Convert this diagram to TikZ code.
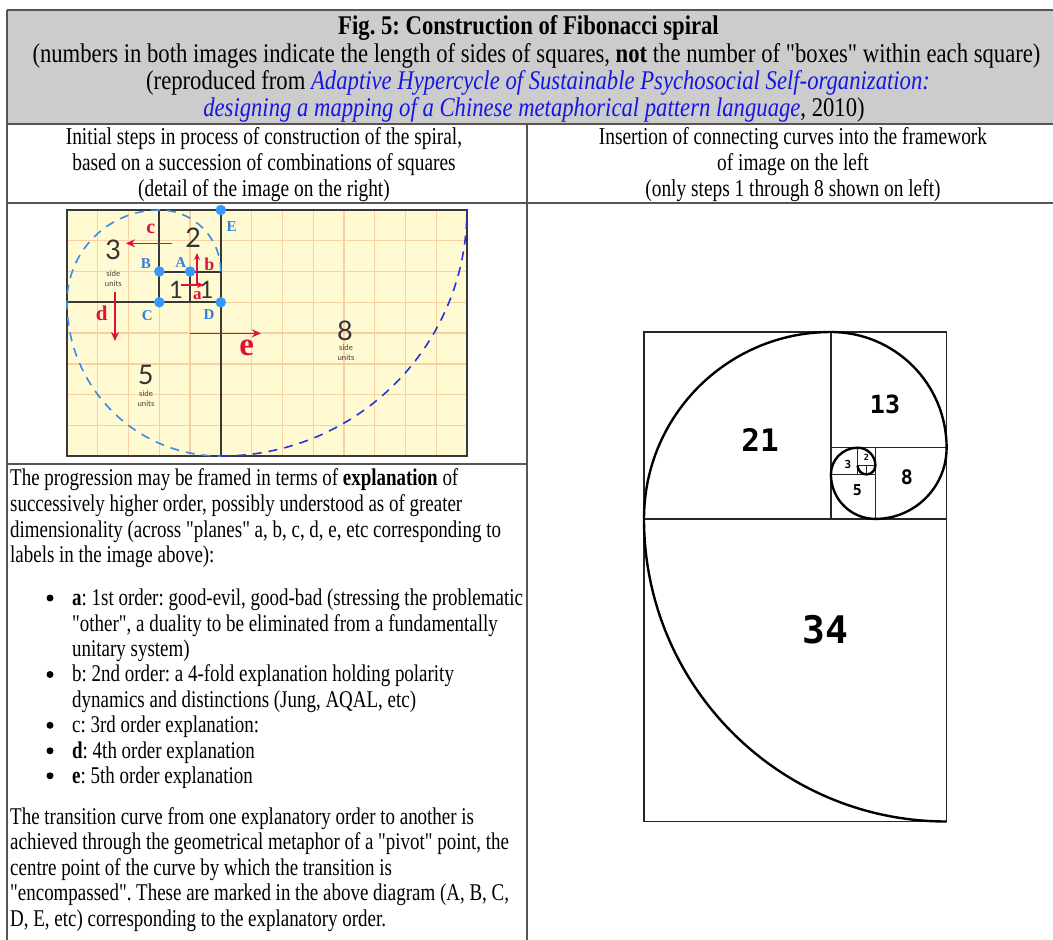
\documentclass[tikz,border=0pt]{standalone}
\usepackage{fontspec}
\setmainfont{Liberation Serif}[FakeStretch=0.79, Ligatures=TeXOff]
\newfontfamily\hdrfam{Liberation Serif}[FakeStretch=0.84, Ligatures=TeXOff]
\newfontfamily\rowfam{Liberation Serif}[FakeStretch=0.8, Ligatures=TeXOff]
\newfontfamily\monof{DejaVu Sans Mono}
\newfontfamily\lsans{Lato}
\newfontfamily\lserif{Liberation Serif}
\usetikzlibrary{arrows.meta}
\frenchspacing
\definecolor{hdrgray}{HTML}{CCCCCC}
\definecolor{rulegray}{HTML}{555555}
\definecolor{linkblue}{HTML}{1515E6}
\definecolor{imgbg}{HTML}{FFFAD2}
\definecolor{gridc}{HTML}{F8D0A2}
\definecolor{sqc}{HTML}{383838}
\definecolor{dotc}{HTML}{3399FF}
\definecolor{lblblue}{HTML}{2E7FE0}
\definecolor{redc}{HTML}{E0103C}
\definecolor{dashl}{HTML}{3A8AE8}
\definecolor{dashr}{HTML}{2236E0}
\newcommand\hdrf{\hdrfam\fontsize{27}{27}\selectfont}
\newcommand\rowf{\rowfam\fontsize{24.2}{26}\selectfont}
\newcommand\bodyf{\fontsize{24}{26}\selectfont}
\tikzset{
  rule/.style={draw=rulegray, line width=1.5pt},
  hline/.style={anchor=base, inner sep=0pt, font=\hdrf},
  rline/.style={anchor=base, inner sep=0pt, font=\rowf},
  tline/.style={anchor=base west, inner sep=0pt, font=\bodyf},
  sqline/.style={draw=sqc, line width=2pt},
  gridline/.style={draw=gridc, line width=1.3pt},
  pivot/.style={circle, fill=dotc, inner sep=0pt, minimum size=10.5pt},
  pivlbl/.style={inner sep=0pt, text=lblblue, font=\lserif\bfseries\fontsize{15}{15}\selectfont},
  redarr/.style={draw=redc, line width=1.6pt, -{Stealth[length=9pt,width=8pt]}},
  redlbl/.style={inner sep=0pt, text=redc, font=\lserif\bfseries\fontsize{20}{20}\selectfont},
  bignum/.style={inner sep=0pt, text=black!80, font=\lsans\fontsize{27}{27}\selectfont},
  tiny/.style={inner sep=0pt, text=black!75, font=\lsans\fontsize{7.8}{7.8}\selectfont},
  fibline/.style={draw=black!85, line width=1.2pt},
  spiral/.style={draw=black, line width=2.4pt},
  fibnum/.style={inner sep=0pt, font=\monof\bfseries},
  bullet/.style={circle, fill=black, inner sep=0pt, minimum size=7pt}
}
\begin{document}
\begin{tikzpicture}[x=1pt,y=1pt]
\useasboundingbox (0,0) rectangle (1053,-940);
\fill[white] (0,0) rectangle (1053,-940);
% ---------- table ----------
\fill[hdrgray] (7,-10) rectangle (1053,-124);
\draw[rule] (7,-10) -- (1053,-10);
\draw[rule] (7,-10) -- (7,-940);
\draw[rule] (7,-124) -- (1053,-124);
\draw[rule] (7,-203) -- (1053,-203);
\draw[rule] (527,-124) -- (527,-940);
\draw[rule] (7,-464) -- (527,-464);
% header
\node[hline] (h1) at (528.5,-34) {\bfseries Fig. 5: Construction of Fibonacci spiral};
\node[hline] (h2) at (536.5,-62) {(numbers in both images indicate the length of sides of squares, \textbf{not} the number of "boxes" within each square)};
\node[hline] (h3) at (538,-89) {(reproduced from \textcolor{linkblue}{\itshape Adaptive Hypercycle of Sustainable Psychosocial Self-organization:}};
\node[hline] (h4) at (534,-116) {\textcolor{linkblue}{\itshape designing a mapping of a Chinese metaphorical pattern language}, 2010)};
% row 2
\node[rline] (l1) at (264,-144) {Initial steps in process of construction of the spiral,};
\node[rline] (l2) at (264,-170) {based on a succession of combinations of squares};
\node[rline] (l3) at (264,-196) {(detail of the image on the right)};
\node[rline] (r1) at (793,-144) {Insertion of connecting curves into the framework};
\node[rline] (r2) at (793,-170) {of image on the left};
\node[rline] (r3) at (793,-196) {(only steps 1 through 8 shown on left)};
% body text
\node[tline] (p1) at (10,-485) {The progression may be framed in terms of \textbf{explanation} of};
\node[tline] (p2) at (10,-511) {successively higher order, possibly understood as of greater};
\node[tline] (p3) at (10,-537) {dimensionality (across "planes" a, b, c, d, e, etc corresponding to};
\node[tline] (p4) at (10,-562) {labels in the image above):};
\node[tline] (b1) at (72,-605.5) {\textbf{a}: 1st order: good-evil, good-bad (stressing the problematic};
\node[tline] (b1b) at (72,-631) {"other", a duality to be eliminated from a fundamentally};
\node[tline] (b1c) at (72,-656.3) {unitary system)};
\node[tline] (b2) at (72,-681.7) {b: 2nd order: a 4-fold explanation holding polarity};
\node[tline] (b2b) at (72,-707) {dynamics and distinctions (Jung, AQAL, etc)};
\node[tline] (b3) at (72,-732.5) {c: 3rd order explanation:};
\node[tline] (b4) at (72,-758) {\textbf{d}: 4th order explanation};
\node[tline] (b5) at (72,-783) {\textbf{e}: 5th order explanation};
\node[bullet] (d1) at (50,-598) {};
\node[bullet] (d2) at (50,-674.5) {};
\node[bullet] (d3) at (50,-725.3) {};
\node[bullet] (d4) at (50,-750.8) {};
\node[bullet] (d5) at (50,-775.8) {};
\node[tline] (q1) at (10,-824) {The transition curve from one explanatory order to another is};
\node[tline] (q2) at (10,-849.5) {achieved through the geometrical metaphor of a "pivot" point, the};
\node[tline] (q3) at (10,-875) {centre point of the curve by which the transition is};
\node[tline] (q4) at (10,-900.5) {"encompassed". These are marked in the above diagram (A, B, C,};
\node[tline] (q5) at (10,-926) {D, E, etc) corresponding to the explanatory order.};
% ---------- left image ----------
\fill[imgbg] (67,-210) rectangle (467,-456);
\foreach \k in {1,...,12} \draw[gridline] ({67+30.77*\k},-210) -- ({67+30.77*\k},-456);
\foreach \k in {1,...,7} \draw[gridline] (67,{-210-30.77*\k}) -- (467,{-210-30.77*\k});
\draw[sqline, line width=2.6pt] (67,-210) rectangle (467,-456);
\draw[sqline] (220.8,-210) -- (220.8,-456);
\draw[sqline] (67,-302.3) -- (220.8,-302.3);
\draw[sqline] (159.3,-210) -- (159.3,-302.3);
\draw[sqline] (159.3,-271.5) -- (220.8,-271.5);
\draw[sqline] (190.1,-271.5) -- (190.1,-302.3);
% dashed spiral
\draw[draw=dashl, line width=1.6pt, dash pattern=on 9pt off 7pt] (220.8,-271.5) arc[start angle=0,end angle=90,radius=61.5] arc[start angle=90,end angle=180,radius=92.3] arc[start angle=180,end angle=270,radius=153.8];
\draw[draw=dashr, line width=1.6pt, dash pattern=on 9pt off 7pt] (220.8,-456.1) arc[start angle=270,end angle=360,radius=246.1];
% numbers
\node[bignum] (n3) at (113.3,-250) {3};
\node[tiny] (n3s) at (113.3,-274) {side};
\node[tiny] (n3u) at (113.3,-284) {units};
\node[bignum] (n2) at (193.3,-237.3) {2};
\node[bignum, font=\lsans\fontsize{24}{24}\selectfont] (n1a) at (176,-290) {1};
\node[bignum, font=\lsans\fontsize{24}{24}\selectfont] (n1b) at (206.7,-290) {1};
\node[bignum] (n8) at (345,-330.5) {8};
\node[tiny] (n8s) at (346,-348) {side};
\node[tiny] (n8u) at (346,-358) {units};
\node[bignum] (n5) at (145.7,-375) {5};
\node[tiny] (n5s) at (146,-393.5) {side};
\node[tiny] (n5u) at (146,-404) {units};
% red arrows
\coordinate (aS) at (181,-285); \coordinate (aE) at (204,-285);
\coordinate (bS) at (197,-284); \coordinate (bE) at (197,-253);
\coordinate (cS) at (172,-243.3); \coordinate (cE) at (126,-243.3);
\coordinate (dS) at (115,-292); \coordinate (dE) at (115,-341);
\coordinate (eS) at (190,-333.3); \coordinate (eE) at (261,-333.3);
\draw[redarr, -{Stealth[length=7pt,width=6pt]}] (aS) -- (aE);
\draw[redarr, -{Stealth[length=7pt,width=6pt]}] (bS) -- (bE);
\draw[redarr] (cS) -- (cE);
\draw[redarr] (dS) -- (dE);
\draw[redarr] (eS) -- (eE);
\node[redlbl, font=\lserif\bfseries\fontsize{17}{17}\selectfont] (la) at (197.3,-296) {a};
\node[redlbl, font=\lserif\bfseries\fontsize{18}{18}\selectfont] (lb) at (209.5,-264) {b};
\node[redlbl] (lc) at (150.7,-229) {c};
\node[redlbl, font=\lserif\bfseries\fontsize{21}{21}\selectfont] (ld) at (101.7,-313.3) {d};
\node[redlbl, font=\lserif\bfseries\fontsize{33}{33}\selectfont] (le) at (246.7,-348) {e};
% pivots
\node[pivot] (A) at (190.1,-271.5) {};
\node[pivot] (B) at (159.3,-271.5) {};
\node[pivot] (C) at (159.3,-302.3) {};
\node[pivot] (D) at (220.8,-302.3) {};
\node[pivot] (E) at (220.8,-210) {};
\node[pivlbl] (lA) at (180.7,-263) {A};
\node[pivlbl] (lB) at (146,-264) {B};
\node[pivlbl] (lC) at (147.3,-316) {C};
\node[pivlbl] (lD) at (209,-315) {D};
\node[pivlbl] (lE) at (231.7,-226.7) {E};
% ---------- right image ----------
\draw[fibline] (644,-332) rectangle (946.6,-821.5);
\draw[fibline] (644,-518.9) -- (946.6,-518.9);
\draw[fibline] (830.9,-332) -- (830.9,-518.9);
\draw[fibline] (830.9,-447.7) -- (946.6,-447.7);
\draw[fibline] (875.4,-447.7) -- (875.4,-518.9);
\draw[fibline] (830.9,-474.4) -- (875.4,-474.4);
\draw[fibline] (857.6,-447.7) -- (857.6,-474.4);
\draw[fibline] (857.6,-465.5) -- (875.4,-465.5);
\draw[fibline] (866.5,-465.5) -- (866.5,-474.4);
\draw[spiral] (946.6,-821.5) arc[start angle=270,end angle=180,radius=302.6]
  arc[start angle=180,end angle=90,radius=186.9]
  arc[start angle=90,end angle=0,radius=115.7]
  arc[start angle=0,end angle=-90,radius=71.2]
  arc[start angle=-90,end angle=-180,radius=44.5]
  arc[start angle=180,end angle=90,radius=26.7]
  arc[start angle=90,end angle=0,radius=17.8]
  arc[start angle=0,end angle=-90,radius=8.9]
  arc[start angle=-90,end angle=-180,radius=8.9];
\node[fibnum, font=\monof\bfseries\fontsize{38}{38}\selectfont] (f34) at (825,-630) {34};
\node[fibnum, font=\monof\bfseries\fontsize{31}{31}\selectfont] (f21) at (760,-440) {21};
\node[fibnum, font=\monof\bfseries\fontsize{25}{25}\selectfont] (f13) at (885,-404) {13};
\node[fibnum, font=\monof\bfseries\fontsize{20}{20}\selectfont] (f8) at (907,-477) {8};
\node[fibnum, font=\monof\bfseries\fontsize{15}{15}\selectfont] (f5) at (857.5,-490) {5};
\node[fibnum, font=\monof\bfseries\fontsize{11}{11}\selectfont] (f3) at (848,-464) {3};
\node[fibnum, font=\monof\bfseries\fontsize{8.5}{8.5}\selectfont] (f2) at (866.5,-457) {2};
\end{tikzpicture}
\end{document}
